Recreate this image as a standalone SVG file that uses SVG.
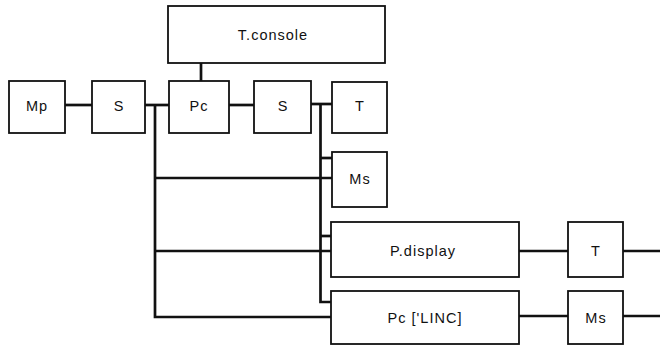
<svg xmlns="http://www.w3.org/2000/svg" width="660" height="346" viewBox="0 0 660 346">
<style>
.box{fill:#fff;stroke:#111;stroke-width:1.8}
.lbl{font-family:"Liberation Sans",Arial,sans-serif;font-size:14.5px;fill:#111;text-anchor:middle;letter-spacing:1px}
.con{fill:none;stroke:#111;stroke-width:2.7;stroke-linecap:butt;stroke-linejoin:miter}
</style>
<rect width="660" height="346" fill="#fff"/>
<g id="connectors">
<line class="con" x1="201" y1="63" x2="201" y2="81"/>
<line class="con" x1="65" y1="105" x2="92" y2="105"/>
<line class="con" x1="145" y1="105" x2="169" y2="105"/>
<line class="con" x1="229" y1="105" x2="254" y2="105"/>
<line class="con" x1="311" y1="104" x2="332" y2="104"/>
<polyline class="con" points="155,105 155,317 331,317"/>
<line class="con" x1="155" y1="178" x2="332" y2="178"/>
<line class="con" x1="155" y1="251" x2="331" y2="251"/>
<polyline class="con" points="320.5,104 320.5,302 331,302"/>
<line class="con" x1="320" y1="158" x2="332" y2="158"/>
<line class="con" x1="320" y1="236" x2="331" y2="236"/>
<line class="con" x1="519" y1="251" x2="568" y2="251"/>
<line class="con" x1="623" y1="251" x2="660" y2="251"/>
<line class="con" x1="519" y1="316" x2="568" y2="316"/>
<line class="con" x1="623" y1="316" x2="660" y2="316"/>
</g>
<g id="tconsole"><rect class="box" x="168" y="6" width="217" height="57"/><text class="lbl" x="273" y="40">T.console</text></g>
<g id="mp"><rect class="box" x="9" y="81" width="56" height="52"/><text class="lbl" x="37" y="111">Mp</text></g>
<g id="s1"><rect class="box" x="92" y="81" width="53" height="52"/><text class="lbl" x="119" y="111">S</text></g>
<g id="pc"><rect class="box" x="169" y="81" width="60" height="52"/><text class="lbl" x="199" y="111">Pc</text></g>
<g id="s2"><rect class="box" x="254" y="81" width="57" height="52"/><text class="lbl" x="283" y="111">S</text></g>
<g id="t1"><rect class="box" x="332" y="82" width="55" height="51"/><text class="lbl" x="360" y="111">T</text></g>
<g id="ms1"><rect class="box" x="332" y="152" width="55" height="55"/><text class="lbl" x="360" y="184">Ms</text></g>
<g id="pdisplay"><rect class="box" x="331" y="222" width="188" height="55"/><text class="lbl" x="423" y="256">P.display</text></g>
<g id="t2"><rect class="box" x="568" y="222" width="55" height="55"/><text class="lbl" x="596" y="256">T</text></g>
<g id="pclinc"><rect class="box" x="331" y="291" width="188" height="53"/><text class="lbl" x="425" y="323">Pc ['LINC]</text></g>
<g id="ms2"><rect class="box" x="568" y="291" width="55" height="53"/><text class="lbl" x="596" y="323">Ms</text></g>
</svg>
